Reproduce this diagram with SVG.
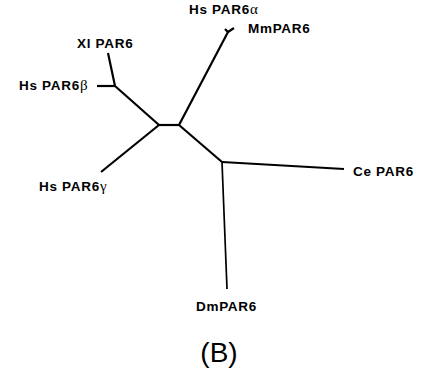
<svg xmlns="http://www.w3.org/2000/svg" width="427" height="375" viewBox="0 0 427 375">
<style>
.lbl{font-family:"Liberation Sans",Arial,sans-serif;font-weight:bold;font-size:13.5px;letter-spacing:0.7px;fill:#000}
.gr{font-family:"Liberation Serif","Times New Roman",serif;font-weight:normal;font-size:15px}
.e{stroke:#000;stroke-width:2.2;fill:none;stroke-linecap:butt;stroke-linejoin:miter}
.cap{font-family:"Liberation Sans",Arial,sans-serif;font-size:28px;fill:#000}
</style>
<rect width="427" height="375" fill="#fff"/>
<g id="connectors">
<path class="e" d="M108,53 L115,86"/>
<path class="e" d="M97,86 L115,86"/>
<path class="e" d="M115,86 L159,125"/>
<path class="e" d="M159,125 L179,125"/>
<path class="e" d="M159,125 L101,172"/>
<path class="e" d="M179,125 L228,32"/>
<path class="e" d="M225,29 L228,32 L234,28"/>
<path class="e" d="M179,125 L222,162"/>
<path class="e" d="M222,162 L344,169"/>
<path class="e" d="M222,162 L227,289" style="stroke-width:1.7"/>
</g>
<g id="XlPAR6"><text class="lbl" x="77" y="48">Xl PAR6</text></g>
<g id="HsPAR6b"><text class="lbl" x="19" y="90">Hs PAR6<tspan class="gr">β</tspan></text></g>
<g id="HsPAR6a"><text class="lbl" x="189" y="14">Hs PAR6<tspan class="gr">α</tspan></text></g>
<g id="MmPAR6"><text class="lbl" x="248" y="33">MmPAR6</text></g>
<g id="HsPAR6g"><text class="lbl" x="39" y="191">Hs PAR6<tspan class="gr">γ</tspan></text></g>
<g id="CePAR6"><text class="lbl" x="353" y="176">Ce PAR6</text></g>
<g id="DmPAR6"><text class="lbl" x="196" y="311">DmPAR6</text></g>
<g id="caption"><text class="cap" x="219" y="362" text-anchor="middle">(B)</text></g>
</svg>
